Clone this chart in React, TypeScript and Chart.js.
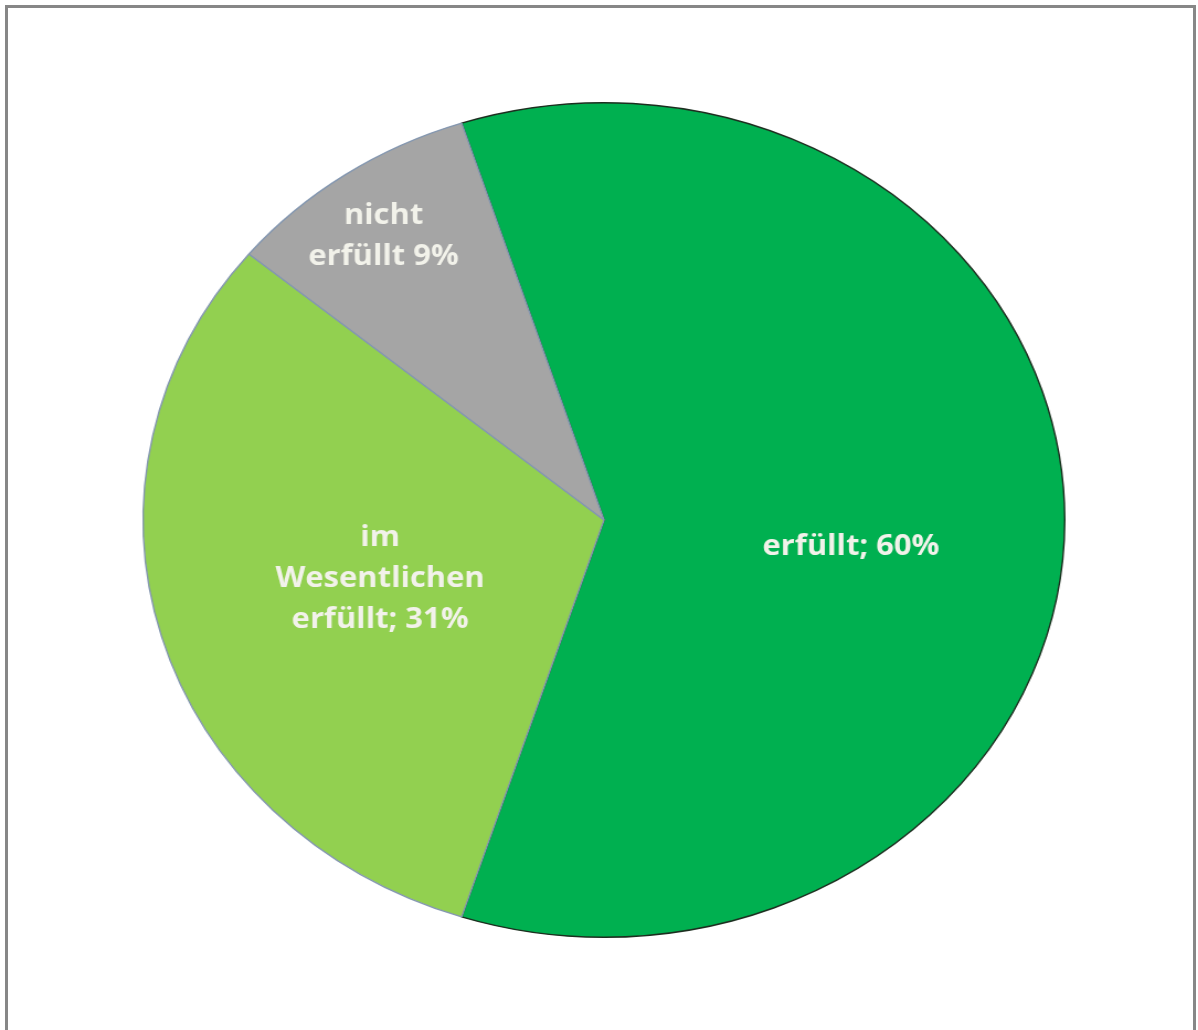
import React, { useEffect, useRef } from "react";
import { Chart, registerables } from "chart.js";

Chart.register(...registerables);

const categories = ["erfüllt", "im Wesentlichen erfüllt", "nicht erfüllt"];
const values = [60, 31, 9];
const labelLines = [["erfüllt; 60%"], ["im", "Wesentlichen", "erfüllt; 31%"], ["nicht", "erfüllt 9%"]];
const sliceColors = ["#00B050", "#92D050", "#A5A5A5"];
const borderColors = ["#1c2e1f", "#8497B0", "#8497B0"];

// label placement: fraction of radius, angle tweak (degrees)
const labelRadial = [0.54, 0.506, 0.83];
const labelAngleTweak = [7, 0, -1];

const labelPlugin = {
  id: "sliceLabels",
  afterDatasetsDraw(chart: any) {
    const ctx = chart.ctx;
    const meta = chart.getDatasetMeta(0);
    ctx.save();
    ctx.font = "bold 28px 'Open Sans'";
    ctx.fillStyle = "#F2F2EA";
    ctx.textAlign = "center";
    ctx.textBaseline = "middle";
    meta.data.forEach((arc: any, i: number) => {
      const p = arc.getProps(["x", "y", "startAngle", "endAngle", "outerRadius"], true);
      const mid = (p.startAngle + p.endAngle) / 2 + (labelAngleTweak[i] * Math.PI) / 180;
      const r = p.outerRadius * labelRadial[i];
      const cx = p.x + Math.cos(mid) * r;
      const cy = p.y + Math.sin(mid) * r;
      const lines = labelLines[i];
      const lh = 41;
      const y0 = cy - ((lines.length - 1) * lh) / 2;
      lines.forEach((t, j) => ctx.fillText(t, cx, y0 + j * lh));
    });
    ctx.restore();
  },
};

export default function App() {
  const ref = useRef<HTMLCanvasElement>(null);
  useEffect(() => {
    if (!ref.current) return;
    const chart = new Chart(ref.current, {
      type: "pie",
      data: {
        labels: categories,
        datasets: [
          {
            data: values,
            backgroundColor: sliceColors,
            borderColor: borderColors,
            borderWidth: 1.4,
          },
        ],
      },
      options: {
        responsive: false,
        animation: false,
        rotation: -18,
        layout: { padding: 32 },
        plugins: { legend: { display: false }, tooltip: { enabled: false } },
      },
      plugins: [labelPlugin],
    });
    return () => chart.destroy();
  }, []);

  return (
    <div>
      <div
        style={{
          position: "absolute",
          left: 5,
          top: 5,
          width: 1191,
          height: 1025,
          borderTop: "3px solid #878787",
          borderLeft: "3px solid #878787",
          borderRight: "3px solid #878787",
          boxSizing: "border-box",
        }}
      />
      <div
        style={{
          position: "absolute",
          left: 154,
          top: 70,
          width: 900,
          height: 900,
          transform: "scaleX(1.1042)",
          transformOrigin: "center",
        }}
      >
        <canvas ref={ref} width={900} height={900} />
      </div>
    </div>
  );
}
